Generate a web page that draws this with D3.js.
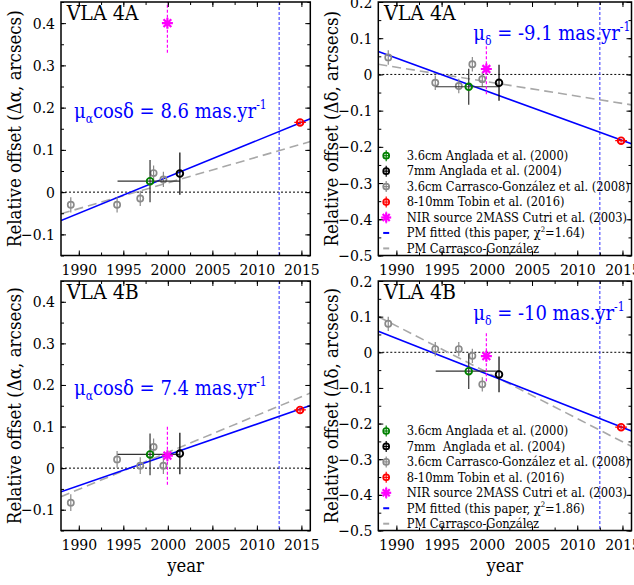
<!DOCTYPE html>
<html><head><meta charset="utf-8">
<script src="https://cdn.jsdelivr.net/npm/d3@7"></script>
<style>
html,body{margin:0;padding:0;background:#fff;}
svg{display:block;}
text{font-family:"DejaVu Serif","Liberation Serif",serif;font-stretch:condensed;}
</style></head><body>
<svg id="c" width="634" height="585"></svg>
<script>
// ---------------- data ----------------
const sources = ["VLA 4A", "VLA 4A", "VLA 4B", "VLA 4B"];
const components = ["ra", "dec", "ra", "dec"];
const xTicks = [1990, 1995, 2000, 2005, 2010, 2015];
const raTicks = [-0.1, 0, 0.1, 0.2, 0.3, 0.4];
const decTicks = [-0.5, -0.4, -0.3, -0.2, -0.1, 0, 0.1, 0.2];
const raDomain = [-0.15, 0.45];
const decDomain = [-0.5, 0.2];
const yearDomain = [1988, 2016];
const epochLine = 2012.5;

// Carrasco-González et al. (2008) 3.6cm epochs
const cgYears = [1989.1, 1994.3, 1996.9, 1998.4, 1999.5];
const cgRa4A = [-0.030, -0.030, -0.015, 0.045, 0.030];
const cgDec4A = [0.047, -0.023, -0.032, 0.028, -0.013];
const cgRa4B = [-0.083, 0.021, 0.006, 0.051, 0.006];
const cgDec4B = [0.080, 0.009, 0.009, -0.010, -0.090];
const cgErr = [0.018, 0.020, 0.020, 0.020];

// Anglada 2000, Anglada 2004, Tobin 2016, 2MASS
const otherYears = [1998.0, 2001.35, 2014.85, 1999.95];
const otherXLo = [1994.35, 2001.35, 2014.2, 1999.95];
const otherXHi = [2001.35, 2001.35, 2015.5, 1999.95];
const otherRa4A = [0.026, 0.044, 0.165, 0.400];
const otherDec4A = [-0.034, -0.023, -0.183, 0.015];
const otherRa4B = [0.033, 0.035, 0.140, 0.030];
const otherDec4B = [-0.053, -0.062, -0.210, -0.011];
const otherYErr = [0.05, 0.05, 0.005, 0.07];

// proper-motion fits (slope per year, value at 2000) in panel order
const pmValues = [8.6, -9.1, 7.4, -10];
const fitSlopes = [0.0086, -0.0091, 0.0074, -0.0100];
const fitAt2000 = [0.036, -0.046, 0.032, -0.061];
const cgSlopes = [0.0061, -0.0040, 0.0089, -0.0130];
const cgAt2000 = [0.022, -0.020, 0.038, -0.056];
const chi2 = ["1.64", "1.86"];

const legendLabels = [
  ["3.6cm Anglada et al. (2000)", "7mm Anglada et al. (2004)", "3.6cm Carrasco-González et al. (2008)",
   "8-10mm Tobin et al. (2016)", "NIR source 2MASS Cutri et al. (2003)", "PM fitted (this paper, χ", "PM Carrasco-González"],
  ["3.6cm Anglada et al. (2000)", "7mm  Anglada et al. (2004)", "3.6cm Carrasco-González et al. (2008)",
   "8-10mm Tobin et al. (2016)", "NIR source 2MASS Cutri et al. (2003)", "PM fitted (this paper, χ", "PM Carrasco-González"]
];

// ---------------- layout ----------------
const layout = [
  {x0: 61, x1: 310.3, y0: 2, y1: 255.5},
  {x0: 378.3, x1: 631.5, y0: 2, y1: 255.5},
  {x0: 61, x1: 310.3, y0: 281, y1: 530.5},
  {x0: 378.3, x1: 631.5, y0: 281, y1: 530.5}
];
const legendTop = [null, 155.7, null, 431];

const COL = {green: "#008000", black: "#000000", gray: "#8a8a8a", red: "#ff0000", mag: "#ff00ff", blue: "#0000ff", cgline: "#a8a8a8"};
const ptColors = [COL.green, COL.black, COL.red, COL.mag];
const barColors = ["#333333", "#000000", COL.red, COL.mag];

const svg = d3.select("#c");

function fit(str, target) {
  const t = svg.append("text").style("font-size", "100px").text(str);
  const w = t.node().getComputedTextLength();
  t.remove();
  return 100 * target / w;
}
const tickFS = fit("1990", 35.7);
const legFS = fit("3.6cm Anglada et al. (2000)", 161.7);
const titleFS = fit("VLA 4A", 71.7);
const ylabFS = fit("Relative offset (Δα, arcsecs)", 237);
const yearFS = fit("year", 36.7);

function annotParts(i) {
  const v = pmValues[i];
  if (components[i] === "ra") return [["μ", 0], ["α", 1], ["cosδ = " + v + " mas.yr", 0], ["-1", 2]];
  return [["μ", 0], ["δ", 1], [" = " + v + " mas.yr", 0], ["-1", 2]];
}
function buildAnnot(g, x, y, parts, fs) {
  const t = g.append("text").attr("x", x).attr("y", y).attr("fill", COL.blue).style("font-size", fs + "px");
  let cur = 0;
  parts.forEach(([s, k]) => {
    const target = k === 1 ? 0.28 * fs : k === 2 ? -0.42 * fs : 0;
    const sp = t.append("tspan").attr("dy", target - cur).text(s);
    if (k) sp.style("font-size", (0.6 * fs) + "px");
    cur = target;
  });
  return t;
}
const annFS = (() => {
  const t = buildAnnot(svg, 0, 0, annotParts(0), 100);
  const w = t.node().getComputedTextLength();
  t.remove();
  return 100 * 192.7 / w;
})();
const annPos = [[74, 117.5], [473.3, 39.5], [74, 394.5], [473.3, 319.5]];

const fmtY = d => d === 0 ? "0" : d3.format(".1f")(d).replace("-", "−");

layout.forEach((L, i) => {
  const isRa = components[i] === "ra";
  const is4A = sources[i] === "VLA 4A";
  const x = d3.scaleLinear().domain(yearDomain).range([L.x0, L.x1]);
  const y = d3.scaleLinear().domain(isRa ? raDomain : decDomain).range([L.y1, L.y0]);
  const g = svg.append("g");
  const clipId = "clip" + i;
  svg.append("clipPath").attr("id", clipId).append("rect")
    .attr("x", L.x0).attr("y", L.y0).attr("width", L.x1 - L.x0).attr("height", L.y1 - L.y0);
  const pg = g.append("g").attr("clip-path", "url(#" + clipId + ")");

  const cgV = is4A ? (isRa ? cgRa4A : cgDec4A) : (isRa ? cgRa4B : cgDec4B);
  const oV = is4A ? (isRa ? otherRa4A : otherDec4A) : (isRa ? otherRa4B : otherDec4B);

  // zero line
  pg.append("line").attr("x1", L.x0).attr("x2", L.x1).attr("y1", y(0)).attr("y2", y(0))
    .attr("stroke", "#000").attr("stroke-width", 1).attr("stroke-dasharray", "2,2");
  // epoch line
  pg.append("line").attr("x1", x(epochLine)).attr("x2", x(epochLine)).attr("y1", L.y0).attr("y2", L.y1)
    .attr("stroke", "#2a2aff").attr("stroke-width", 1).attr("stroke-dasharray", "3,2");

  // fit lines
  const line = d3.line().x(d => x(d[0])).y(d => y(d[1]));
  const cgLine = yearDomain.map(t => [t, cgAt2000[i] + cgSlopes[i] * (t - 2000)]);
  const pmLine = yearDomain.map(t => [t, fitAt2000[i] + fitSlopes[i] * (t - 2000)]);
  pg.append("path").attr("d", line(cgLine)).attr("fill", "none").attr("stroke", COL.cgline)
    .attr("stroke-width", 1.6).attr("stroke-dasharray", "9,5");
  pg.append("path").attr("d", line(pmLine)).attr("fill", "none").attr("stroke", COL.blue).attr("stroke-width", 1.6);

  // CG points
  cgYears.forEach((t, k) => {
    pg.append("line").attr("x1", x(t)).attr("x2", x(t)).attr("y1", y(cgV[k] - cgErr[i])).attr("y2", y(cgV[k] + cgErr[i]))
      .attr("stroke", COL.gray).attr("stroke-width", 1.2);
    pg.append("circle").attr("cx", x(t)).attr("cy", y(cgV[k])).attr("r", 3.1)
      .attr("fill", "none").attr("stroke", COL.gray).attr("stroke-width", 1.7);
  });
  // other points
  [2, 0, 1, 3].forEach(k => {
    const cx = x(otherYears[k]), cy = y(oV[k]);
    const dash = k === 3 ? "3,2" : null;
    pg.append("line").attr("x1", cx).attr("x2", cx).attr("y1", y(oV[k] - otherYErr[k])).attr("y2", y(oV[k] + otherYErr[k]))
      .attr("stroke", barColors[k]).attr("stroke-width", 1.2).attr("stroke-dasharray", dash);
    if (otherXLo[k] !== otherXHi[k]) {
      pg.append("line").attr("x1", x(otherXLo[k])).attr("x2", x(otherXHi[k])).attr("y1", cy).attr("y2", cy)
        .attr("stroke", barColors[k]).attr("stroke-width", 1.2);
    }
    if (k === 3) {
      drawStar(pg, cx, cy, 5.5);
    } else {
      pg.append("circle").attr("cx", cx).attr("cy", cy).attr("r", 3.3)
        .attr("fill", "none").attr("stroke", ptColors[k]).attr("stroke-width", 1.9);
    }
  });

  // axes
  const major = 5, minor = 3;
  const yT = isRa ? raTicks : decTicks;
  const yDom = y.domain();
  const yMinor = d3.range(Math.ceil(yDom[0] / 0.05 - 1e-6), Math.floor(yDom[1] / 0.05 + 1e-6) + 1).map(v => +(v * 0.05).toFixed(2));
  const xMinor = d3.range(1990, 2016.01, 2.5);
  function styleAxis(sel) {
    sel.select(".domain").remove();
    sel.selectAll("line").attr("stroke", "#000").attr("stroke-width", 1);
    sel.selectAll("text").attr("fill", "#000").style("font-size", tickFS + "px").attr("font-family", null);
  }
  g.append("g").attr("transform", `translate(${L.x0},0)`)
    .call(d3.axisLeft(y).tickValues(yMinor).tickSize(-minor).tickFormat("")).call(styleAxis);
  g.append("g").attr("transform", `translate(${L.x0},0)`)
    .call(d3.axisLeft(y).tickValues(yT).tickSize(-major).tickPadding(6).tickFormat(fmtY)).call(styleAxis);
  g.append("g").attr("transform", `translate(${L.x1},0)`)
    .call(d3.axisRight(y).tickValues(yMinor).tickSize(-minor).tickFormat("")).call(styleAxis);
  g.append("g").attr("transform", `translate(${L.x1},0)`)
    .call(d3.axisRight(y).tickValues(yT).tickSize(-major).tickFormat("")).call(styleAxis);
  g.append("g").attr("transform", `translate(0,${L.y1})`)
    .call(d3.axisBottom(x).tickValues(xMinor).tickSize(-minor).tickFormat("")).call(styleAxis);
  const xb = g.append("g").attr("transform", `translate(0,${L.y1})`)
    .call(d3.axisBottom(x).tickValues(xTicks).tickSize(-major).tickPadding(7).tickFormat(d3.format("d"))).call(styleAxis);
  xb.selectAll("text").attr("dy", null).attr("y", 19.5);
  g.append("g").attr("transform", `translate(0,${L.y0})`)
    .call(d3.axisTop(x).tickValues(xMinor).tickSize(-minor).tickFormat("")).call(styleAxis);
  g.append("g").attr("transform", `translate(0,${L.y0})`)
    .call(d3.axisTop(x).tickValues(xTicks).tickSize(-major).tickFormat("")).call(styleAxis);

  // frame
  g.append("rect").attr("x", L.x0).attr("y", L.y0).attr("width", L.x1 - L.x0).attr("height", L.y1 - L.y0)
    .attr("fill", "none").attr("stroke", "#000").attr("stroke-width", 1.5);

  // title
  g.append("text").attr("x", L.x0 + 5.7).attr("y", L.y0 + 18).style("font-size", titleFS + "px").text(sources[i]);
  // annotation
  buildAnnot(g, annPos[i][0], annPos[i][1], annotParts(i), annFS);
  // y label
  const cyl = (L.y0 + L.y1) / 2;
  g.append("text").attr("transform", `translate(${L.x0 - 40},${cyl}) rotate(-90)`)
    .attr("text-anchor", "middle").style("font-size", ylabFS + "px")
    .text(isRa ? "Relative offset (Δα, arcsecs)" : "Relative offset (Δδ, arcsecs)");
  // x label
  if (!is4A) {
    g.append("text").attr("x", (L.x0 + L.x1) / 2).attr("y", 571.5).attr("text-anchor", "middle")
      .style("font-size", yearFS + "px").text("year");
  }
  // legend
  if (legendTop[i] !== null) {
    const li = is4A ? 0 : 1;
    const lx = 386.2, tx = 406.7, step = 15.45;
    legendLabels[li].forEach((lab, k) => {
      const ly = legendTop[i] + k * step;
      const col = [COL.green, COL.black, COL.gray, COL.red, COL.mag, COL.blue, COL.cgline][k];
      if (k <= 3) {
        g.append("line").attr("x1", lx).attr("x2", lx).attr("y1", ly - 5.5).attr("y2", ly + 5.5).attr("stroke", col).attr("stroke-width", 1.2);
        g.append("line").attr("x1", lx - 3).attr("x2", lx + 3).attr("y1", ly).attr("y2", ly).attr("stroke", col).attr("stroke-width", 1.2);
        g.append("circle").attr("cx", lx).attr("cy", ly).attr("r", 3).attr("fill", "none").attr("stroke", col).attr("stroke-width", 1.7);
      } else if (k === 4) {
        g.append("line").attr("x1", lx).attr("x2", lx).attr("y1", ly - 6).attr("y2", ly + 6).attr("stroke", col).attr("stroke-width", 1).attr("stroke-dasharray", "2,1.5");
        drawStar(g, lx, ly, 5);
      } else {
        g.append("line").attr("x1", lx - 3).attr("x2", lx + 3).attr("y1", ly).attr("y2", ly).attr("stroke", col).attr("stroke-width", 2);
      }
      const t = g.append("text").attr("x", tx).attr("y", ly).attr("dy", "0.34em")
        .style("font-size", legFS + "px").style("white-space", "pre").attr("xml:space", "preserve");
      t.append("tspan").text(lab);
      if (k === 5) {
        t.append("tspan").attr("dy", -0.42 * legFS).style("font-size", (0.6 * legFS) + "px").text("2");
        t.append("tspan").attr("dy", 0.42 * legFS).text("=" + chi2[li] + ")");
      }
    });
  }
});

function drawStar(sel, cx, cy, r) {
  const gs = sel.append("g").attr("transform", `translate(${cx},${cy})`);
  [0, 45, 90, 135].forEach(a => {
    const rad = a * Math.PI / 180;
    gs.append("line").attr("x1", -r * Math.cos(rad)).attr("y1", -r * Math.sin(rad))
      .attr("x2", r * Math.cos(rad)).attr("y2", r * Math.sin(rad))
      .attr("stroke", COL.mag).attr("stroke-width", 2.2);
  });
  gs.append("circle").attr("r", r * 0.5).attr("fill", COL.mag);
}
</script>
</body></html>
